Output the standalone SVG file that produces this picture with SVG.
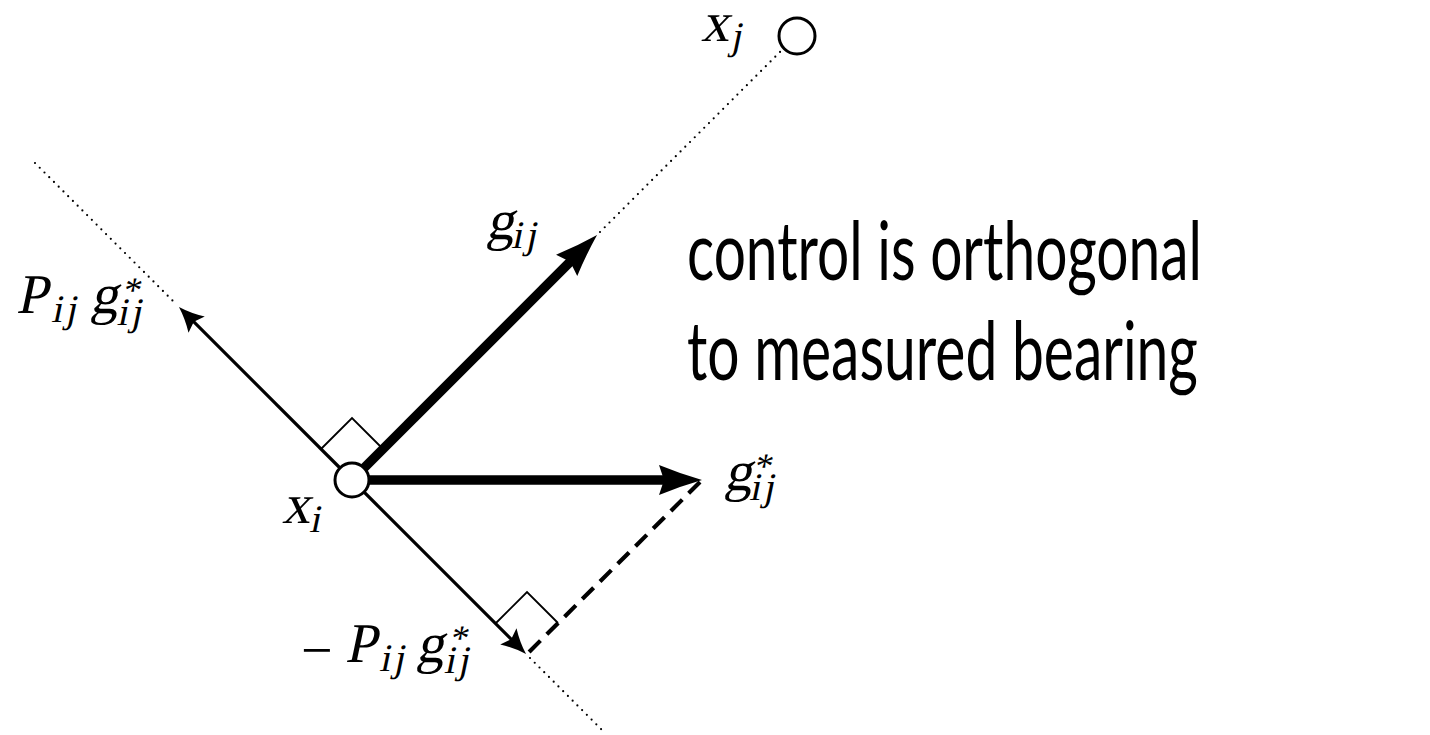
<svg xmlns="http://www.w3.org/2000/svg" width="1430" height="735" viewBox="0 0 1430 735">
<style>
text.math{font-family:"Liberation Serif","Times New Roman",serif;font-style:normal;fill:#000}
.big{font-size:56px}
.sub{font-size:39px;letter-spacing:3px}
.sup{font-size:36px}
.thin{stroke:#000;stroke-width:3.2;fill:none}
.thick{stroke:#000;stroke-width:9.5;fill:none}
.dot{stroke:#000;stroke-width:2.2;stroke-linecap:round;stroke-dasharray:0 6.7;fill:none}
.dash{stroke:#000;stroke-width:4.2;stroke-dasharray:16 9;fill:none}
.ra{stroke:#000;stroke-width:1.8;fill:none}
.node{fill:#fff;stroke:#000;stroke-width:3}
text.caption{font-family:Lato,"Open Sans",sans-serif;font-size:82px;fill:#000}
</style>
<defs>
<marker id="headThick" markerUnits="userSpaceOnUse" markerWidth="50" markerHeight="40" viewBox="-2 -20 50 40" refX="8" refY="0" orient="auto" overflow="visible">
<path d="M43,0 Q22,-6 0,-15 L5,0 L0,15 Q22,6 43,0 Z" fill="#000"/>
</marker>
<marker id="headThin" markerUnits="userSpaceOnUse" markerWidth="30" markerHeight="30" viewBox="-2 -15 30 30" refX="6" refY="0" orient="auto" overflow="visible">
<path d="M25,0 Q12,-4 0,-11.5 L4,0 L0,11.5 Q12,4 25,0 Z" fill="#000"/>
</marker>
</defs>
<rect width="1430" height="735" fill="#fff"/>
<g id="connectors">
<line class="dot" x1="35" y1="163" x2="177" y2="305"/>
<line class="dot" x1="600" y1="232" x2="781" y2="51"/>
<line class="dot" x1="530" y1="658" x2="605" y2="733"/>
<line class="dash" x1="700" y1="482" x2="529" y2="652"/>
<line class="thin" x1="352" y1="480" x2="192.4" y2="320.4" marker-end="url(#headThin)"/>
<line class="thin" x1="352" y1="480" x2="512.6" y2="640.6" marker-end="url(#headThin)"/>
<line class="thick" x1="352" y1="480" x2="572.3" y2="259.7" marker-end="url(#headThick)"/>
<line class="thick" x1="352" y1="480" x2="667" y2="480" marker-end="url(#headThick)"/>
<polyline class="ra" points="321,449 352,418 383,449"/>
<polyline class="ra" points="496,623 527,592 558,623"/>
</g>
<g id="node-xi">
<circle class="node" cx="352" cy="480" r="17"/>
<text class="math" transform="matrix(1,0,-0.21,1,109.83,0)"><tspan class="big" x="282" y="523">x</tspan><tspan class="sub" x="311" y="532">i</tspan></text>
</g>
<g id="node-xj">
<circle class="node" cx="797" cy="36" r="18"/>
<text class="math" transform="matrix(1,0,-0.21,1,8.61,0)"><tspan class="big" x="701" y="41">x</tspan><tspan class="sub" x="732" y="49">j</tspan></text>
</g>
<g id="label-gij">
<text class="math" transform="matrix(1,0,-0.21,1,50.19,0)"><tspan class="big" x="486" y="239">g</tspan><tspan class="sub" x="513" y="248">ij</tspan></text>
</g>
<g id="label-gstar">
<text class="math" transform="matrix(1,0,-0.21,1,102.9,0)"><tspan class="big" x="724" y="490">g</tspan><tspan class="sup" x="750" y="478">*</tspan><tspan class="sub" x="751" y="500">ij</tspan></text>
</g>
<g id="label-Pg">
<text class="math" transform="matrix(1,0,-0.21,1,65.73,0)"><tspan class="big" x="16" y="313">P</tspan><tspan class="sub" x="53" y="322">ij</tspan><tspan class="big" x="90" y="313">g</tspan><tspan class="sup" x="119" y="302">*</tspan><tspan class="sub" x="119" y="325">ij</tspan></text>
</g>
<g id="label-minusPg">
<text class="math"><tspan class="big" x="301" y="669">−</tspan></text>
<text class="math" transform="matrix(1,0,-0.21,1,139.02,0)"><tspan class="big" x="345" y="662">P</tspan><tspan class="sub" x="381" y="671">ij</tspan><tspan class="big" x="416" y="662">g</tspan><tspan class="sup" x="446" y="650">*</tspan><tspan class="sub" x="446" y="673">ij</tspan></text>
</g>
<g id="caption">
<text class="caption" x="687" y="280" textLength="515" lengthAdjust="spacingAndGlyphs">control is orthogonal</text>
<text class="caption" x="687" y="380" textLength="511" lengthAdjust="spacingAndGlyphs">to measured bearing</text>
</g>
</svg>
